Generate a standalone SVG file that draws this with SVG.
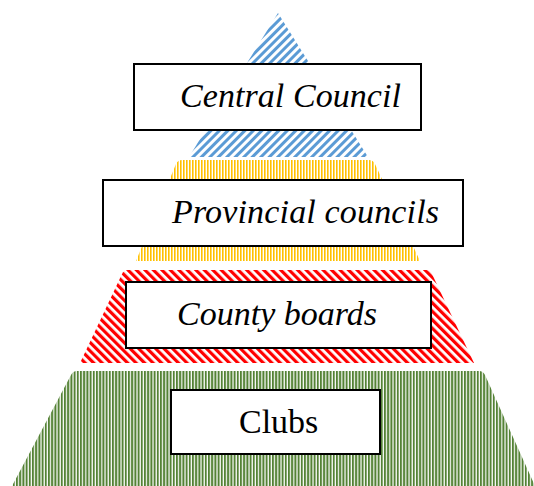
<svg xmlns="http://www.w3.org/2000/svg" width="534" height="486" viewBox="0 0 534 486">
  <defs>
    <pattern id="pBlue" width="6" height="6" patternUnits="userSpaceOnUse" patternTransform="rotate(45)">
      <rect width="3" height="6" fill="#5B9BD5"/>
    </pattern>
    <pattern id="pYellow" width="3" height="4" patternUnits="userSpaceOnUse">
      <rect width="1.6" height="4" fill="#FFC000"/>
    </pattern>
    <pattern id="pRed" width="6" height="6" patternUnits="userSpaceOnUse" patternTransform="rotate(-45)">
      <rect width="3.2" height="6" fill="#FF0000"/>
    </pattern>
    <pattern id="pGreen" width="3.2" height="4" patternUnits="userSpaceOnUse">
      <rect width="2" height="4" fill="#548235"/>
    </pattern>
  </defs>
  <style>
    .box { fill: #FFFFFF; stroke: #000000; stroke-width: 2; }
    .lbl { font-family: "Liberation Serif", "Times New Roman", serif; font-size: 34px; fill: #000000; }
    .it { font-style: italic; }
  </style>
  <rect width="534" height="486" fill="#FFFFFF"/>

  <g id="tier-central">
    <path d="M278,13 L189,157 L368,157 Z" fill="url(#pBlue)"/>
    <rect class="box" x="134" y="64" width="287" height="66"/>
    <text class="lbl it" x="180" y="107" textLength="221" lengthAdjust="spacing">Central Council</text>
  </g>

  <g id="tier-provincial">
    <path d="M136,261 L176,164 Q178,160 182,160 L369,160 Q373,160 375,164 L420,261 Z" fill="url(#pYellow)"/>
    <rect class="box" x="103" y="180" width="360" height="66"/>
    <text class="lbl it" x="172" y="223" textLength="267" lengthAdjust="spacing">Provincial councils</text>
  </g>

  <g id="tier-county">
    <path d="M80,363 L122,274 Q124,270 128,270 L426,270 Q430,270 432,274 L474,363 Z" fill="url(#pRed)"/>
    <rect class="box" x="126" y="282" width="305" height="66"/>
    <text class="lbl it" x="177" y="325" textLength="200" lengthAdjust="spacing">County boards</text>
  </g>

  <g id="tier-clubs">
    <path d="M12,486 L71,375 Q73,371 77,371 L479,371 Q483,371 485,375 L535,486 Z" fill="url(#pGreen)"/>
    <rect class="box" x="171" y="390" width="209" height="64"/>
    <text class="lbl" x="239" y="433">Clubs</text>
  </g>
</svg>
